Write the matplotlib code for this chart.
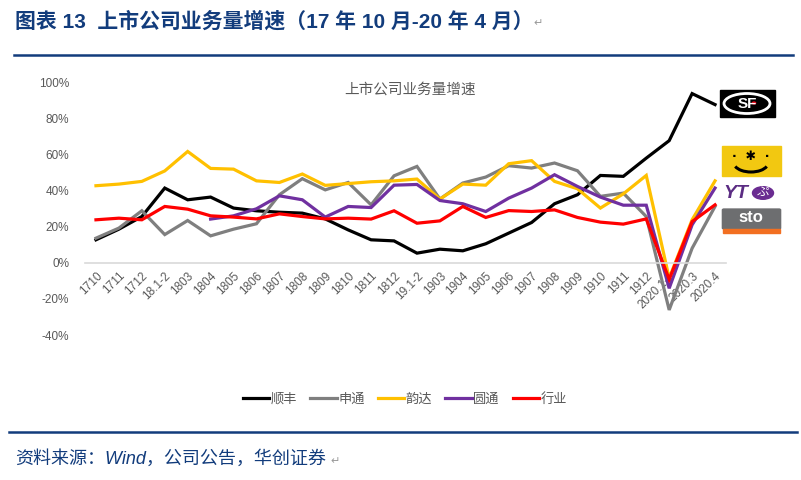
import numpy as np
from matplotlib import pyplot as plt
from matplotlib.lines import Line2D
from matplotlib.patches import Rectangle, FancyBboxPatch, Ellipse, Circle, Arc

plt.rcParams['font.family'] = ['Liberation Sans', 'Noto Sans CJK SC', 'DejaVu Sans']

# categories (months)
months = ['1710', '1711', '1712', '18.1-2', '1803', '1804', '1805', '1806', '1807',
          '1808', '1809', '1810', '1811', '1812', '19.1-2', '1903', '1904', '1905',
          '1906', '1907', '1908', '1909', '1910', '1911', '1912', '2020.1-2',
          '2020.3', '2020.4']

# business volume growth, %
sf = [12.8, 18.7, 25.7, 41.5, 35.0, 36.5, 30.4, 28.9, 28.1, 27.6, 24.4, 18.3, 12.8, 12.2,
      5.4, 7.6, 6.7, 10.6, 16.5, 22.4, 32.8, 37.8, 48.5, 48.0, 58.1, 67.8, 93.9, 87.8]
sto = [13.7, 19.3, 28.9, 15.7, 23.5, 15.0, 18.7, 21.7, 37.8, 46.7, 40.5, 44.6, 32.2, 48.3,
       53.5, 35.4, 44.3, 47.6, 53.9, 52.6, 55.4, 51.1, 36.9, 38.7, 25.7, -26.1, 8.1, 31.3]
yunda = [42.8, 43.7, 45.2, 51.0, 61.8, 52.4, 52.0, 45.5, 44.6, 49.3, 43.0, 44.0, 45.0, 45.5,
         46.5, 35.4, 43.7, 43.1, 55.0, 56.7, 45.2, 41.1, 30.4, 38.3, 48.5, -8.5, 23.9, 45.5]
yto = [np.nan, np.nan, np.nan, np.nan, np.nan, 24.3, 26.1, 30.0, 37.2, 35.0, 25.4, 31.3, 30.7,
       43.1, 43.5, 34.6, 32.8, 28.5, 35.9, 41.5, 48.9, 42.4, 36.5, 32.0, 32.0, -14.1, 21.1, 41.5]
industry = [23.9, 24.8, 23.9, 31.3, 29.8, 26.1, 25.4, 24.4, 27.2, 25.7, 24.4, 24.8, 24.3, 28.9,
            22.0, 23.3, 31.3, 25.2, 29.0, 28.5, 29.4, 25.2, 22.6, 21.5, 24.4, -9.1, 22.9, 32.2]

names = ['顺丰', '申通', '韵达', '圆通', '行业']
colors = ['#000000', '#7F7F7F', '#FFC000', '#7030A0', '#FF0000']

W, H = 801, 480
navy = '#123C7C'
grey_txt = '#595959'

fig = plt.figure(figsize=(W / 100, H / 100), dpi=100)
fig.patch.set_facecolor('white')

ax = fig.add_axes([84.5 / W, (H - 335) / H, 642 / W, (335 - 82.6) / H])
x = np.arange(len(months))
for vals, name, c in zip([sf, sto, yunda, yto, industry], names, colors):
    ax.plot(x, vals, color=c, lw=2.3, label=name, solid_joinstyle='miter')

ax.set_xlim(-0.5, len(months) - 0.5)
ax.set_ylim(-40, 100)
ax.set_yticks(np.arange(-40, 101, 20))
ax.set_yticklabels([f'{v}%' for v in range(-40, 101, 20)])
ax.set_xticks(x)
ax.set_xticklabels(months)
for s in ['top', 'right', 'left']:
    ax.spines[s].set_visible(False)
ax.spines['bottom'].set_position(('data', 0))
ax.spines['bottom'].set_color('#D9D9D9')
ax.spines['bottom'].set_linewidth(1.2)
ax.tick_params(axis='both', length=0, labelsize=8.5, labelcolor=grey_txt)
ax.tick_params(axis='y', pad=11)
ax.tick_params(axis='x', pad=5, labelrotation=45)
for lab in ax.get_xticklabels():
    lab.set_ha('right')
    lab.set_rotation_mode('anchor')

fig.text(410 / W, 1 - 90 / H, '上市公司业务量增速', ha='center', va='center',
         fontsize=10.5, color=grey_txt)

fig.legend(loc='center', bbox_to_anchor=(405 / W, 1 - 399 / H), ncol=5, frameon=False,
           fontsize=9.5, handlelength=2.0, handletextpad=0.1, columnspacing=1.0,
           labelcolor=grey_txt)

# header / footer
fig.text(15 / W, 1 - 21 / H, '图表 13  上市公司业务量增速（17 年 10 月-20 年 4 月）',
         fontsize=15, fontweight='bold', color=navy, va='center')
fig.text(533 / W, 1 - 23 / H, '↵', fontsize=8, color='#999999', va='center',
         family=['DejaVu Sans'])
fig.add_artist(Line2D([14 / W, 793 / W], [1 - 54.7 / H] * 2, color=navy, lw=1.8))
fig.add_artist(Line2D([9 / W, 797 / W], [1 - 432 / H] * 2, color=navy, lw=1.8))
fig.text(15 / W, 1 - 459 / H, '资料来源：Wind，公司公告，华创证券', fontsize=13,
         style='italic', color=navy, va='center')
fig.text(330 / W, 1 - 461 / H, '↵', fontsize=8, color='#999999', va='center',
         family=['DejaVu Sans'])


# company logos at the right
def fx(px):
    return px / W


def fy(py):
    return 1 - py / H


# SF
fig.add_artist(Rectangle((fx(720), fy(117)), 55 / W, 27 / H, color='black'))
fig.add_artist(Ellipse((fx(747), fy(103.5)), 46 / W, 20 / H, fill=False, ec='white', lw=2))
fig.text(fx(747), fy(103.5), 'SF', color='white', fontsize=11, fontweight='bold',
         ha='center', va='center')
fig.add_artist(Circle((fx(754), fy(103)), 1.6 / W, color='#E60012'))
# Yunda
fig.add_artist(Rectangle((fx(722), fy(176)), 59 / W, 30 / H, color='#F2C811'))
fig.text(fx(751), fy(157), '·  ✱  ·', color='black', fontsize=9, fontweight='bold',
         ha='center', va='center', family=['DejaVu Sans'])
fig.add_artist(Arc((fx(751), fy(163)), 34 / W, 18 / H, theta1=200, theta2=340,
                   color='black', lw=2.2))
# YTO
fig.text(fx(723), fy(193), 'YT', color='#5B2C83', fontsize=14, fontweight='bold',
         style='italic', ha='left', va='center')
fig.add_artist(Circle((fx(763), fy(193)), 10.5 / W, color='#6A2C91'))
fig.text(fx(763), fy(193), 'ぷ', color='white', fontsize=9, ha='center', va='center',
         family=['Noto Sans CJK JP'])
# STO
fig.add_artist(FancyBboxPatch((fx(724), fy(228)), 55 / W, 18 / H,
                              boxstyle='round,pad=0.002', color='#6D6E70'))
fig.text(fx(751), fy(218), 'sto', color='white', fontsize=12, fontweight='bold',
         ha='center', va='center')
fig.add_artist(Rectangle((fx(723), fy(233)), 57 / W, 4 / H, color='#F26F21'))

fig.savefig('out.png', dpi=100)
